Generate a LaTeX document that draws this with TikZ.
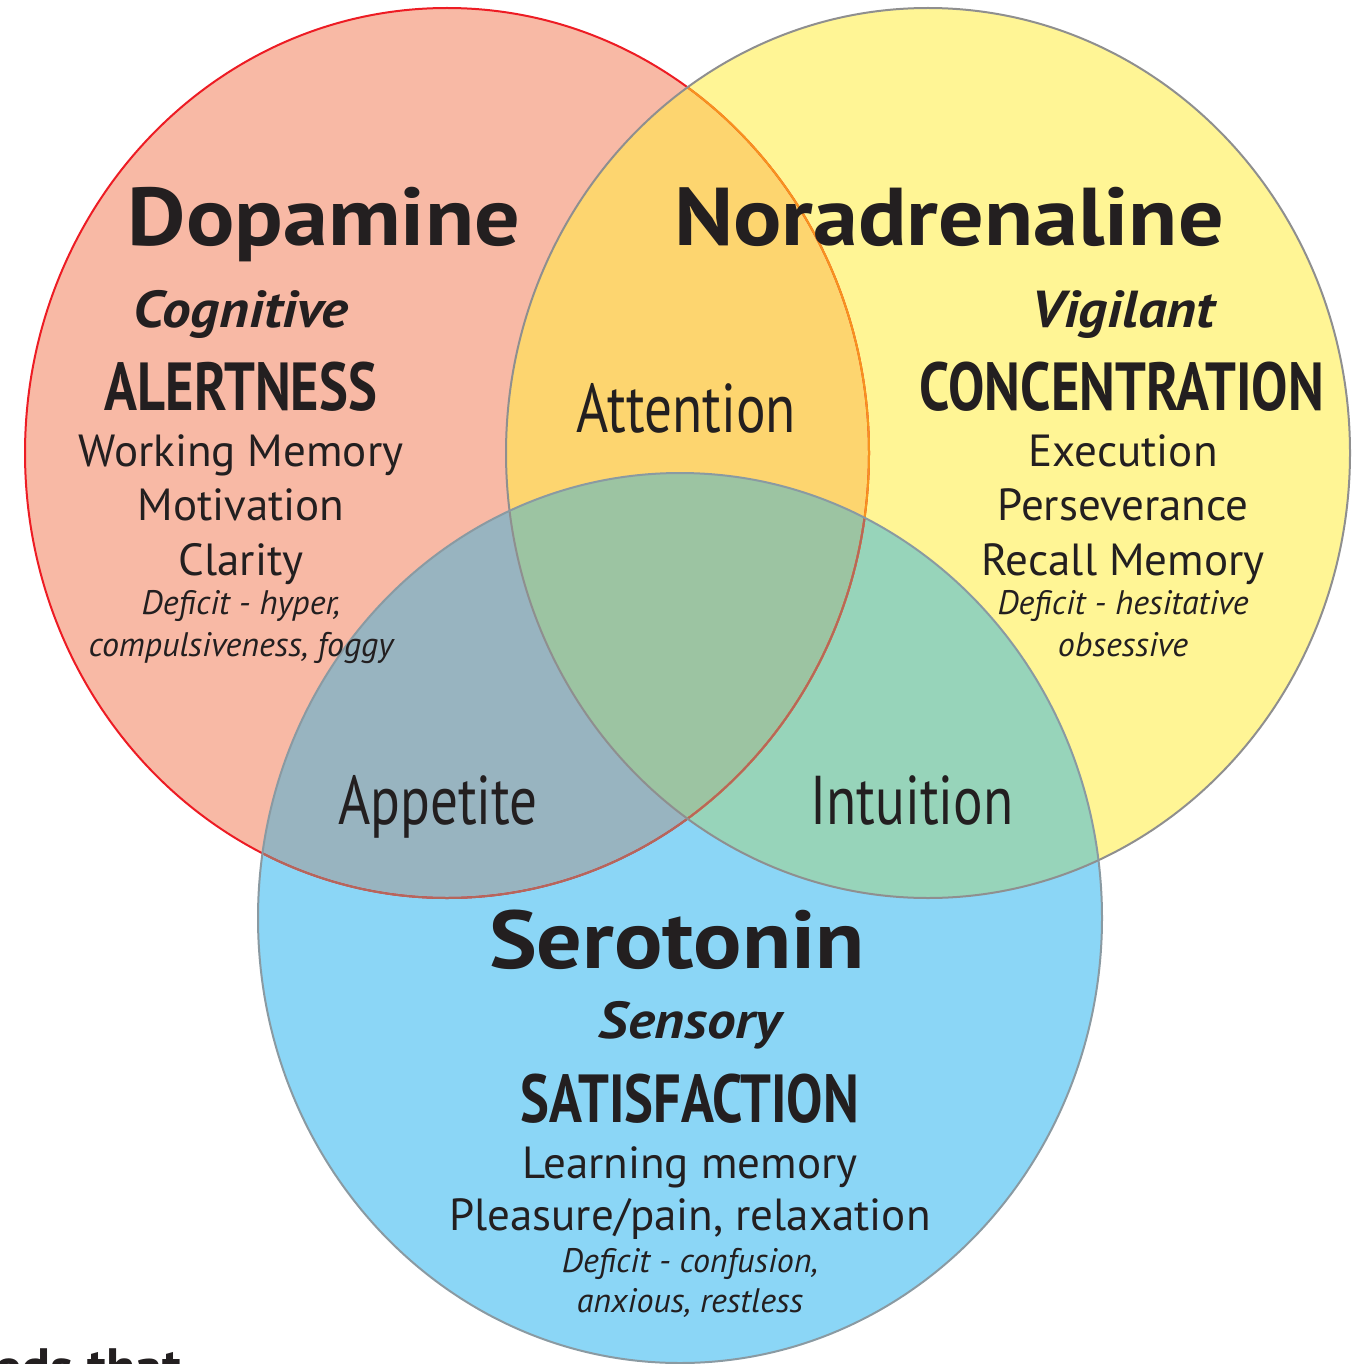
\documentclass[tikz,border=0pt]{standalone}
\usepackage{fontspec}
\setmainfont{PT Sans}
\newfontfamily\narrowfont[FakeStretch=0.8]{PT Sans}
\newfontfamily\widefont[FakeStretch=1.1]{PT Sans}
\usepackage{xcolor}
\definecolor{ink}    {HTML}{231F20}
\definecolor{dopac}  {HTML}{F8B9A5}
\definecolor{norc}   {HTML}{FFF595}
\definecolor{seroc}  {HTML}{8BD6F6}
\definecolor{dnc}    {HTML}{FDD56F}
\definecolor{dsc}    {HTML}{98B4C0}
\definecolor{nsc}    {HTML}{97D4BA}
\definecolor{allc}   {HTML}{9CC4A2}
\definecolor{edgered}{HTML}{ED1C24}
\definecolor{edgeorg}{HTML}{F7941D}
\definecolor{edgebrn}{HTML}{B5675C}
\definecolor{edgegry}{HTML}{8F8F8F}
\definecolor{edgeblu}{HTML}{8A9AA2}
\usepackage{tikz}

\begin{document}
\begin{tikzpicture}[x=0.5pt, y=-0.5pt,
  txt/.style={anchor=base, inner sep=0pt, text=ink},
  titel/.style={txt, font=\widefont\fontsize{41}{41}\selectfont\bfseries},
  soort/.style={txt, font=\widefont\fontsize{26}{26}\selectfont\bfseries\itshape},
  kern/.style={txt, font=\narrowfont\fontsize{34}{34}\selectfont\bfseries},
  item/.style={txt, font=\fontsize{22.5}{22.5}\selectfont},
  tekort/.style={txt, font=\fontsize{17}{17}\selectfont\itshape},
  overlap/.style={txt, font=\narrowfont\fontsize{34.5}{34.5}\selectfont},
  rand/.style={line width=1pt}]
  \clip (0,0) rectangle (1361,1364);
  \def\dopa{(447,453) ellipse [x radius=422, y radius=445]}
  \def\nora{(928,453) ellipse [x radius=422, y radius=445]}
  \def\sero{(680,918) ellipse [x radius=422, y radius=445]}
  % vlakken
  \fill[dopac] \dopa;
  \fill[norc] \nora;
  \fill[seroc] \sero;
  \begin{scope} \clip \dopa; \fill[dnc] \nora; \end{scope}
  \begin{scope} \clip \dopa; \fill[dsc] \sero; \end{scope}
  \begin{scope} \clip \nora; \fill[nsc] \sero; \end{scope}
  \begin{scope} \clip \dopa; \clip \nora; \fill[allc] \sero; \end{scope}
  % randen
  \draw[rand, edgered] \dopa;
  \begin{scope} \clip \nora; \draw[rand, edgeorg] \dopa; \end{scope}
  \begin{scope} \clip \sero; \draw[rand, edgebrn] \dopa; \end{scope}
  \draw[rand, edgegry] \nora;
  \draw[rand, edgeblu] \sero;
  % Dopamine
  \node[titel] (dop) at (324,245) {Dopamine};
  \node[soort] (cog) at (241,327) {Cognitive};
  \node[kern] (ale) at (241,410) {ALERTNESS};
  \node[item] (wm) at (241,466) {Working Memory};
  \node[item] (mot) at (241,520) {Motivation};
  \node[item] (cla) at (241,575) {Clarity};
  \node[tekort] (dd1) at (241,614) {Deficit - hyper,};
  \node[tekort] (dd2) at (241,656) {compulsiveness, foggy};
  % Noradrenaline
  \node[titel] (nor) at (949,245) {Noradrenaline};
  \node[soort] (vig) at (1123,327) {Vigilant};
  \node[kern] (con) at (1122,410) {CONCENTRATION};
  \node[item] (exe) at (1123,466) {Execution};
  \node[item] (per) at (1123,520) {Perseverance};
  \node[item] (rec) at (1123,575) {Recall Memory};
  \node[tekort] (nd1) at (1123,614) {Deficit - hesitative};
  \node[tekort] (nd2) at (1123,656) {obsessive};
  % overlap
  \node[overlap] (att) at (686,432) {Attention};
  \node[overlap] (app) at (438,824) {Appetite};
  \node[overlap] (int) at (912,824) {Intuition};
  % Serotonin
  \node[titel] (ser) at (677,968) {Serotonin};
  \node[soort] (sen) at (690,1038) {Sensory};
  \node[kern] (sat) at (690,1122) {SATISFACTION};
  \node[item] (lea) at (690,1178) {Learning memory};
  \node[item] (ple) at (690,1230) {Pleasure/pain, relaxation};
  \node[tekort] (sd1) at (690,1272) {Deficit - confusion,};
  \node[tekort] (sd2) at (690,1312) {anxious, restless};
  % afgesneden tekst
  \node[txt, anchor=base west, font=\fontsize{27}{27}\selectfont\bfseries] (rest) at (-6,1386) {eds that};
\end{tikzpicture}
\end{document}
